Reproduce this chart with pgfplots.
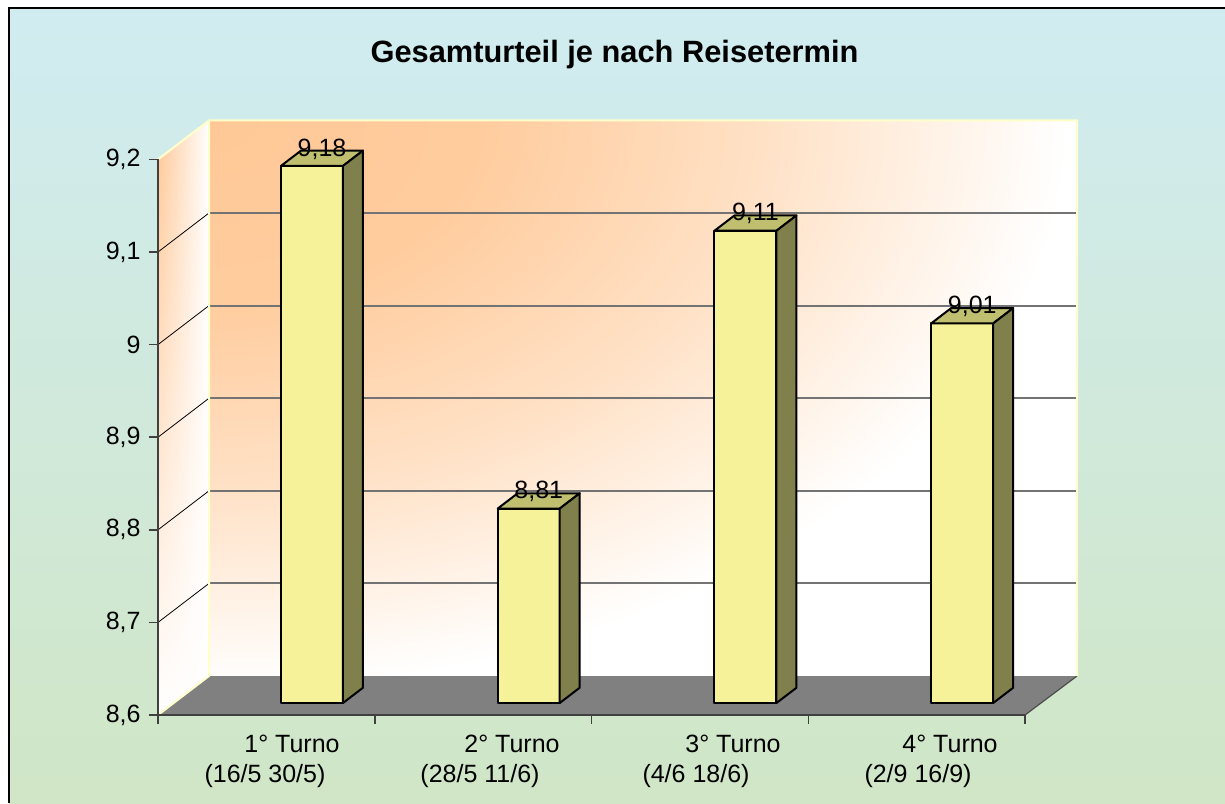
\documentclass[border=0pt]{standalone}
\usepackage{fontspec}
\setmainfont{Liberation Sans}
\usepackage{pgfplots}
\pgfplotsset{compat=1.18}
\usepackage{pgfplotstable}
\usetikzlibrary{fadings}
\definecolor{bgtop}{RGB}{208,236,241}
\definecolor{bgbot}{RGB}{208,230,198}
\definecolor{peach}{RGB}{255,200,150}
\definecolor{edgey}{RGB}{255,255,204}
\definecolor{floorg}{RGB}{128,128,128}
\definecolor{barfront}{RGB}{246,242,154}
\definecolor{bartop}{RGB}{191,191,111}
\definecolor{barside}{RGB}{128,128,76}
\tikzfading[name=fadedown, top color=transparent!100, bottom color=transparent!0]
\pgfdeclareradialshading{wallshade}{\pgfpoint{0bp}{0bp}}{color(0bp)=(peach); color(8bp)=(peach!92!white); color(16bp)=(peach!55!white); color(25bp)=(white); color(50bp)=(white)}
\pgfdeclareplotmark{nothing}{}
\pgfkeys{/pgf/number format/assume math mode=true}
\pgfplotstableread{
x v
0 9.18
1 8.81
2 9.11
3 9.01
}\datatable
\newcommand\lblfont{\fontsize{12.5}{15}\selectfont}
\begin{document}
\begin{tikzpicture}[x=0.5pt,y=-0.5pt]
\useasboundingbox (0,0) rectangle (1225,803);
\shade[top color=bgtop, bottom color=bgbot] (9,8) rectangle (1225,803);
\draw[line width=1pt] (9,803) -- (9,8) -- (1225,8);
\node[anchor=base, font=\fontsize{15.4}{18}\selectfont\bfseries] at (614.5,62) {Gesamturteil je nach Reisetermin};
% back wall
\begin{scope}
\clip (209,120.4) rectangle (1077,676);
\fill[white] (209,120.4) rectangle (1077,676);
\shade[shading=wallshade] (209,120.4) ellipse [x radius=430pt, y radius=285pt];
\end{scope}
% side wall
\begin{scope}
\clip (158,715) -- (158,159.4) -- (209,120.4) -- (209,676) -- cycle;
\shade[left color=peach, right color=white] (158,120) rectangle (209,715);
\fill[white, path fading=fadedown] (158,120) rectangle (209,715);
\end{scope}
% gridlines
\foreach \v in {8.7,8.8,8.9,9.0,9.1} {
  \pgfmathsetmacro\yb{676-(\v-8.6)*926}
  \pgfmathsetmacro\yf{715-(\v-8.6)*926}
  \draw[black!55, line width=1pt] (209,\yb) -- (1077,\yb);
  \draw[black, line width=0.4pt] (158,\yf) -- (209,\yb);
}
% floor
\fill[floorg] (158,715) -- (1025,715) -- (1077,676) -- (209,676) -- cycle;
\draw[black!70, line width=0.6pt] (1025,715) -- (1077,676);
\draw[edgey, line width=1pt] (158,715) -- (209,676) -- (209,120.4) (158,159.4) -- (209,120.4) -- (1077,120.4) -- (1077,676);
\coordinate (O) at (158,715);
\begin{axis}[
  at={(O)}, anchor=south west,
  x=108.375pt, y=463pt,
  xmin=-0.5, xmax=3.5, ymin=8.6, ymax=9.2,
  axis x line=bottom, axis y line=left,
  axis line style={-, black!75, line width=0.75pt},
  xtick={-0.5,0.5,1.5,2.5,3.5}, xticklabels={},
  ytick={8.6,8.7,8.8,8.9,9,9.1,9.2},
  tick align=outside, major tick length=4.5pt,
  tick style={black!75, line width=0.75pt},
  yticklabel style={anchor=east, inner sep=0pt, xshift=-4pt, font=\lblfont},
  clip=false,
  /pgf/number format/use comma,
]
\addplot[scatter, only marks, mark=nothing,
  visualization depends on={\thisrow{v} \as \val},
  scatter/@pre marker code/.code={%
    \pgfmathsetlengthmacro\h{(\val-8.6)*463pt}%
    \filldraw[fill=barfront, draw=black, line width=1pt, line join=round] (7.3pt,6pt-\h) rectangle (38.3pt,6pt);
    \filldraw[fill=bartop, draw=black, line width=1pt, line join=round] (7.3pt,6pt) -- (17.3pt,13.65pt) -- (48.3pt,13.65pt) -- (38.3pt,6pt) -- cycle;
    \filldraw[fill=barside, draw=black, line width=1pt, line join=round] (38.3pt,6pt) -- (48.3pt,13.65pt) -- (48.3pt,13.65pt-\h) -- (38.3pt,6pt-\h) -- cycle;
    \node[font=\lblfont, inner sep=0pt] at (27.8pt,14.5pt) {\pgfmathprintnumber[fixed, fixed zerofill, precision=2, use comma]{\val}};
  },
  scatter/@post marker code/.code={},
] table[x=x, y=v] {\datatable};
\end{axis}
\foreach \xa/\xb/\la/\lb in {292/265/{1° Turno}/{(16/5 30/5)}, 512/480/{2° Turno}/{(28/5 11/6)}, 733/696/{3° Turno}/{(4/6 18/6)}, 950/918/{4° Turno}/{(2/9 16/9)}} {
  \node[anchor=base, font=\lblfont, inner sep=0pt] at (\xa,752) {\la};
  \node[anchor=base, font=\lblfont, inner sep=0pt] at (\xb,782) {\lb};
}
\end{tikzpicture}
\end{document}
